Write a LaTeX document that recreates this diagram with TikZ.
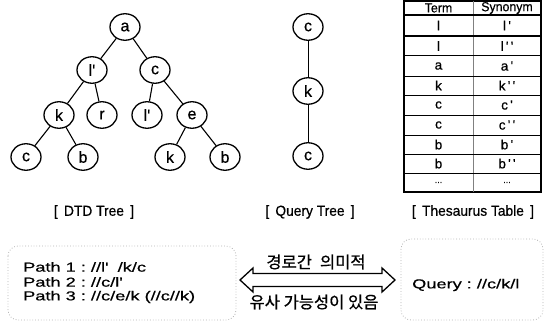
\documentclass[tikz,border=0pt]{standalone}
\usepackage{fontspec}
\setmainfont{Liberation Sans}[FakeBold=0.6]
\newfontfamily\widefont{Liberation Sans}[FakeStretch=1.4,FakeBold=0.6]
\newfontfamily\narrowfont{Liberation Sans}[FakeStretch=0.95,FakeBold=0.6]
\newfontfamily\kofont{Noto Sans CJK KR}[FakeBold=0.8]
\usetikzlibrary{shapes.geometric,calc}
\newcommand{\pq}{\textquotesingle}
\newcommand{\tdots}{{\fontsize{9}{9}\selectfont ...}}
\tikzset{
  tn/.style={ellipse, draw, line width=1.3pt, minimum width=30pt, minimum height=26.5pt, inner sep=0pt, font=\fontsize{16}{16}\selectfont},
  edge/.style={line width=1.1pt},
  cell/.style={inner sep=0pt, font=\fontsize{13.5}{13.5}\selectfont},
  caption/.style={inner sep=0pt, font=\narrowfont\fontsize{14.5}{14.5}\selectfont},
  pathtxt/.style={inner sep=0pt, anchor=west, font=\widefont\fontsize{13}{13}\selectfont},
  kotxt/.style={inner sep=0pt, font=\kofont\fontsize{16.5}{16.5}\selectfont},
  dbox/.style={draw=gray!60, dotted, line width=0.8pt, rounded corners=10pt}
}
\begin{document}
\begin{tikzpicture}[x=1pt,y=-1pt]
\useasboundingbox (0,0) rectangle (559,321);
% DTD tree
\node[tn] (a) at (125,27) {a};
\node[tn] (l1) at (92,70) {l\pq};
\node[tn] (c1) at (155,70) {c};
\node[tn] (k1) at (59,115) {k};
\node[tn] (r) at (102,115) {r};
\node[tn] (l2) at (147,115) {l\pq};
\node[tn] (e) at (192,115) {e};
\node[tn] (c2) at (26,157) {c};
\node[tn] (b1) at (83,157) {b};
\node[tn] (k2) at (170,157) {k};
\node[tn] (b2) at (225,157) {b};
\draw[edge] (a) -- (l1);
\draw[edge] (a) -- (c1);
\draw[edge] (l1) -- (k1);
\draw[edge] (l1) -- (r);
\draw[edge] (c1) -- (l2);
\draw[edge] (c1) -- (e);
\draw[edge] (k1) -- (c2);
\draw[edge] (k1) -- (b1);
\draw[edge] (e) -- (k2);
\draw[edge] (e) -- (b2);
% Query tree
\node[tn] (qc) at (308,27) {c};
\node[tn] (qk) at (308,91) {k};
\node[tn] (qc2) at (308,156) {c};
\draw[line width=0.8pt] (qc) -- (qk);
\draw[line width=0.8pt] (qk) -- (qc2);
% Thesaurus table
\draw[line width=1.1pt] (404,1) rectangle (541,192);
\draw[line width=0.7pt, gray] (473,1) -- (473,192);
\foreach \yy in {15,56,76,95,115,135,154,173} {
  \draw[line width=1pt] (404,\yy) -- (541,\yy);
}
\draw[line width=1.6pt] (404,15) rectangle (541,36);
\node[cell, font=\narrowfont\fontsize{13}{13}\selectfont] (th1) at (438.5,8) {Term};
\node[cell, font=\narrowfont\fontsize{13}{13}\selectfont] (th2) at (507,8) {Synonym};
\foreach \yc/\ta/\tb [count=\i] in {25.5/l/l\,\pq, 46/l/l\,\pq\,\pq, 66/a/a\,\pq, 85.5/k/k\,\pq\,\pq, 105/c/c\,\pq, 125/c/c\,\pq\,\pq, 144.5/b/b\,\pq, 163.5/b/b\,\pq\,\pq, 182.5/\tdots/\tdots} {
  \node[cell] (ta\i) at (438.5,\yc) {\ta};
  \node[cell] (tb\i) at (507,\yc) {\tb};
}
% captions
\node[caption] (cap1) at (94,212) {[\ \,DTD Tree\,\ ]};
\node[caption] (cap2) at (310,212) {[\ \,Query Tree\,\ ]};
\node[caption] (cap3) at (473,212) {[\ \,Thesaurus Table\,\ ]};
% bottom boxes
\draw[dbox] (8,246) rectangle (236,320);
\coordinate (lbE) at (236,283);
\node[pathtxt] (p1) at (23,267) {Path 1\ :\ //l\pq\ \ /k/c};
\node[pathtxt] (p2) at (23,282) {Path 2\ :\ //c/l\pq};
\node[pathtxt] (p3) at (23,297) {Path 3\ :\ //c/e/k\ (//c//k)};
\draw[dbox] (401,239) rectangle (543,320);
\coordinate (rbW) at (401,283);
\node[pathtxt] (q) at (412,285) {Query\ :\ //c/k/l};
% double arrow
\coordinate (AL) at (240,280);
\coordinate (AR) at (395,280);
\draw[line width=1.3pt, line join=miter] (AL) -- ($(AL)+(13,-12)$) -- ($(AL)+(13,-6.5)$) -- ($(AR)+(-13,-6.5)$) -- ($(AR)+(-13,-12)$) -- (AR) -- ($(AR)+(-13,12)$) -- ($(AR)+(-13,6.5)$) -- ($(AL)+(13,6.5)$) -- ($(AL)+(13,12)$) -- cycle;
\node[kotxt] (k1t) at (316,262) {경로간\hspace{8pt}의미적};
\node[kotxt] (k2t) at (314,302) {유사\ 가능성이\ 있음};
\end{tikzpicture}
\end{document}
